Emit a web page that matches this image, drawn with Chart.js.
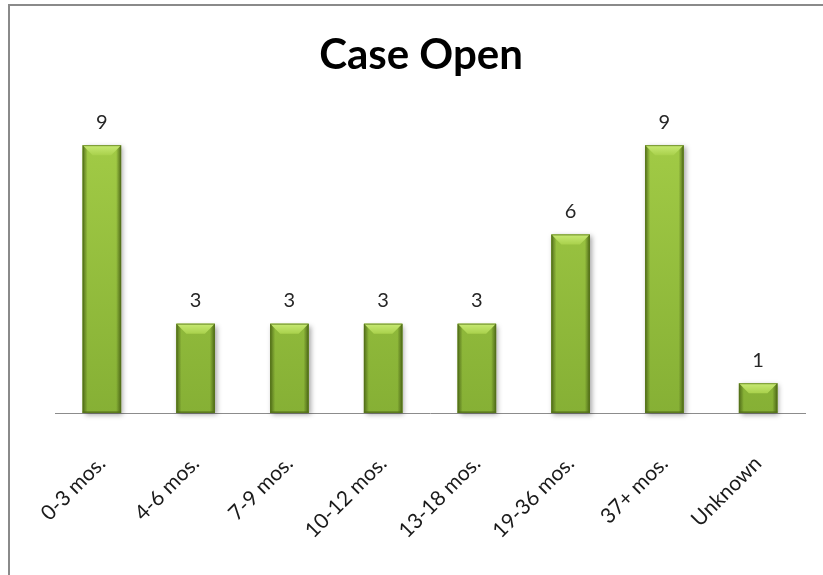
<!DOCTYPE html>
<html>
<head>
<meta charset="utf-8">
<title>Case Open</title>
<script src="https://cdn.jsdelivr.net/npm/chart.js@4.4.1/dist/chart.umd.min.js"></script>
<style>
  html, body { margin: 0; padding: 0; background: #fff; }
  #frame {
    position: absolute; left: 8px; top: 4px; right: 0; bottom: 0;
    border-top: 2px solid #8a8a8a; border-left: 2px solid #8a8a8a;
  }
  #wrap { position: absolute; left: 0; top: 0; width: 823px; height: 575px; }
</style>
</head>
<body>
<div id="frame"></div>
<div id="wrap"><canvas id="caseChart" width="823" height="575"></canvas></div>
<script>
const categories = ["0-3 mos.", "4-6 mos.", "7-9 mos.", "10-12 mos.", "13-18 mos.", "19-36 mos.", "37+ mos.", "Unknown"];
const caseCounts = [9, 3, 3, 3, 3, 6, 9, 1];
const chartTitle = "Case Open";

const FONT = "Lato, 'Open Sans', sans-serif";

// soft drop shadow under each bar
const barShadow = {
  id: "barShadow",
  beforeDatasetsDraw(chart) {
    const ctx = chart.ctx;
    chart.getDatasetMeta(0).data.forEach((bar) => {
      const w = bar.width;
      ctx.save();
      ctx.shadowColor = "rgba(0,0,0,0.35)";
      ctx.shadowBlur = 5;
      ctx.shadowOffsetX = 2;
      ctx.shadowOffsetY = 2;
      ctx.fillStyle = "#7da22f";
      ctx.fillRect(bar.x - w / 2, bar.y, w, bar.base - bar.y);
      ctx.restore();
    });
  }
};

// bevel: light top face, darker side edges
const barBevel = {
  id: "barBevel",
  afterDatasetsDraw(chart) {
    const ctx = chart.ctx;
    chart.getDatasetMeta(0).data.forEach((bar) => {
      const l = bar.x - bar.width / 2;
      const r = bar.x + bar.width / 2;
      const t = bar.y;
      const b = bar.base;
      const d = Math.min(10, (b - t) / 2);
      ctx.save();

      // top face
      const tg = ctx.createLinearGradient(0, t, 0, t + d);
      tg.addColorStop(0, "#c8ea74");
      tg.addColorStop(1, "#a9d14c");
      ctx.fillStyle = tg;
      ctx.beginPath();
      ctx.moveTo(l, t);
      ctx.lineTo(r, t);
      ctx.lineTo(r - d, t + d);
      ctx.lineTo(l + d, t + d);
      ctx.closePath();
      ctx.fill();

      // left edge
      const lg = ctx.createLinearGradient(l, 0, l + 5, 0);
      lg.addColorStop(0, "rgba(70,95,20,0.85)");
      lg.addColorStop(1, "rgba(70,95,20,0)");
      ctx.fillStyle = lg;
      ctx.beginPath();
      ctx.moveTo(l, t);
      ctx.lineTo(l + 5, t + 5);
      ctx.lineTo(l + 5, b);
      ctx.lineTo(l, b);
      ctx.closePath();
      ctx.fill();

      // right edge
      const rg = ctx.createLinearGradient(r, 0, r - 5, 0);
      rg.addColorStop(0, "rgba(70,95,20,0.9)");
      rg.addColorStop(1, "rgba(70,95,20,0)");
      ctx.fillStyle = rg;
      ctx.beginPath();
      ctx.moveTo(r, t);
      ctx.lineTo(r - 5, t + 5);
      ctx.lineTo(r - 5, b);
      ctx.lineTo(r, b);
      ctx.closePath();
      ctx.fill();

      // bottom edge
      ctx.fillStyle = "rgba(80,105,25,0.5)";
      ctx.fillRect(l, b - 2, r - l, 2);

      // thin outline
      ctx.strokeStyle = "rgba(85,115,25,0.7)";
      ctx.lineWidth = 1;
      ctx.strokeRect(l + 0.5, t + 0.5, r - l - 1, b - t - 1);
      ctx.restore();
    });
  }
};

// value above each bar
const valueLabels = {
  id: "valueLabels",
  afterDatasetsDraw(chart) {
    const ctx = chart.ctx;
    const data = chart.data.datasets[0].data;
    ctx.save();
    ctx.font = "20px " + FONT;
    ctx.fillStyle = "#262626";
    ctx.textAlign = "center";
    ctx.textBaseline = "bottom";
    chart.getDatasetMeta(0).data.forEach((bar, i) => {
      ctx.fillText(String(data[i]), bar.x, bar.y - 13);
    });
    ctx.restore();
  }
};

function bodyGradient(context) {
  const area = context.chart.chartArea;
  if (!area) return "#93bd3e";
  const g = context.chart.ctx.createLinearGradient(0, area.top, 0, area.bottom);
  g.addColorStop(0, "#a4cd47");
  g.addColorStop(1, "#86b035");
  return g;
}

const ctx = document.getElementById("caseChart").getContext("2d");
new Chart(ctx, {
  type: "bar",
  data: {
    labels: categories,
    datasets: [{
      data: caseCounts,
      backgroundColor: bodyGradient,
      borderWidth: 0,
      barPercentage: 0.41,
      categoryPercentage: 1.0
    }]
  },
  options: {
    responsive: false,
    animation: false,
    layout: { padding: { left: 37, right: 18, top: 0, bottom: 0 } },
    plugins: {
      legend: { display: false },
      tooltip: { enabled: false },
      title: {
        display: true,
        text: chartTitle,
        color: "#000",
        font: { family: FONT, size: 42, weight: "bold" },
        padding: { top: 30, bottom: 35 }
      }
    },
    scales: {
      x: {
        grid: { display: false, drawTicks: false },
        border: { display: true, color: "#8c8c8c", width: 1 },
        ticks: {
          color: "#1a1a1a",
          font: { family: FONT, size: 21 },
          minRotation: 45,
          maxRotation: 45,
          padding: 38
        },
        afterFit(scale) { scale.height = 162; }
      },
      y: {
        display: true,
        min: 0,
        max: 10,
        grid: { display: false, drawTicks: false },
        border: { display: false },
        ticks: { display: false },
        afterFit(scale) { scale.width = 18; }
      }
    }
  },
  plugins: [barShadow, barBevel, valueLabels]
});
</script>
</body>
</html>
